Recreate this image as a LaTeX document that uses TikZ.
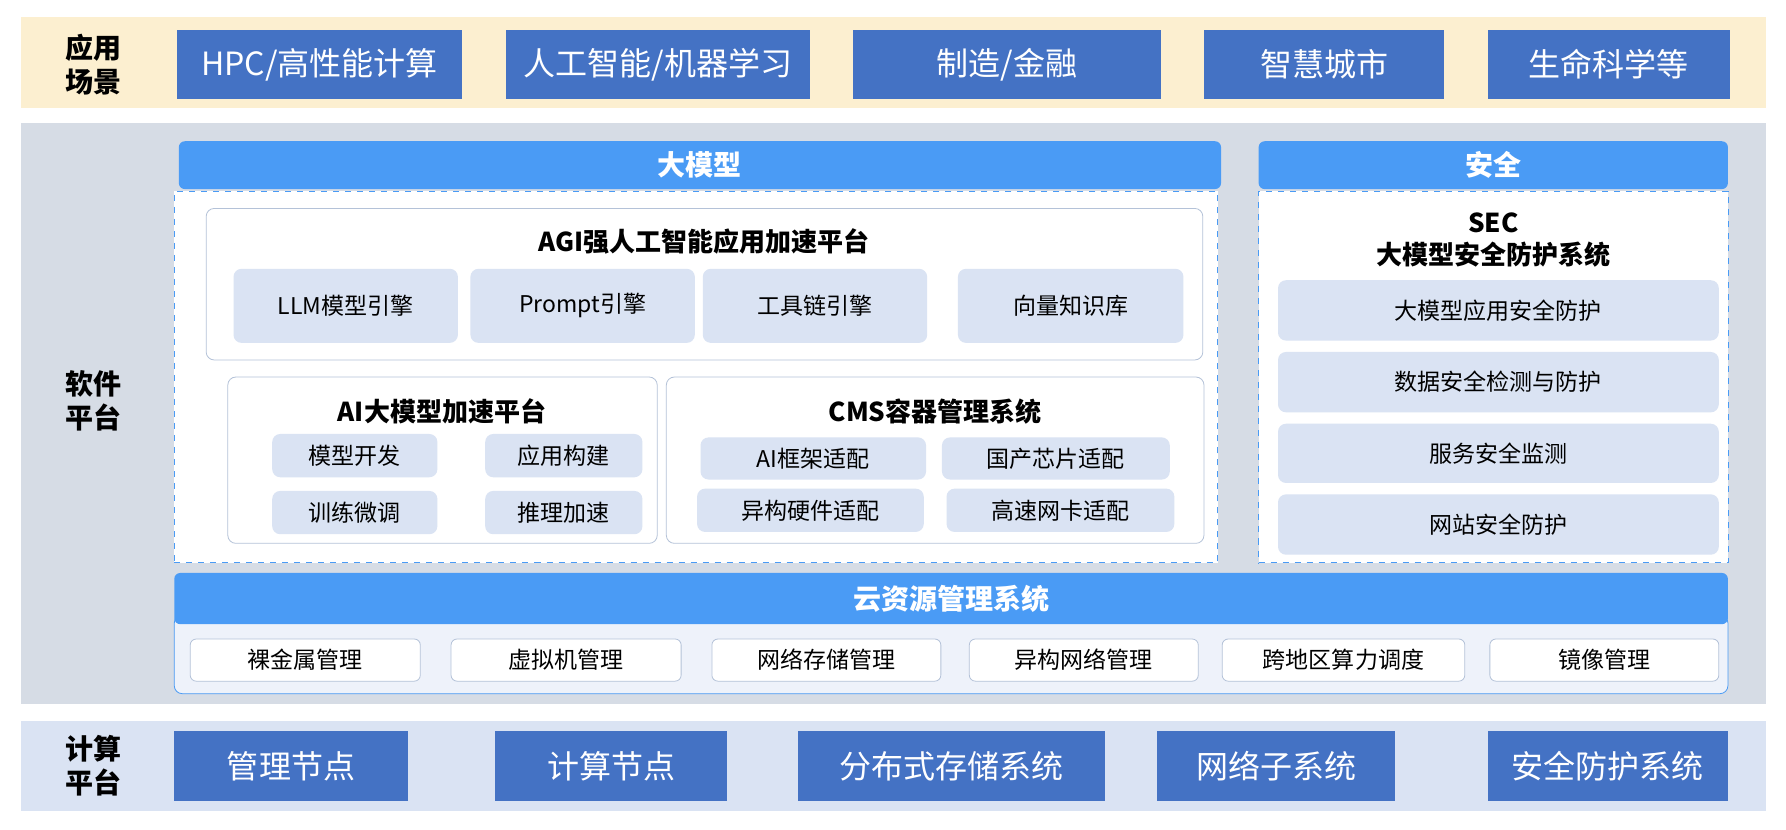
\documentclass[tikz,border=0pt]{standalone}
\usepackage{fontspec}
\setmainfont{Noto Sans CJK SC}
\usepackage{tikz}

\definecolor{darkblue}{HTML}{4472C4}
\definecolor{headblue}{HTML}{4A9BF5}
\definecolor{paleblue}{HTML}{DAE3F3}
\definecolor{bandgray}{HTML}{D6DCE5}
\definecolor{bandbeige}{HTML}{FCEFD0}
\definecolor{edgegray}{HTML}{B4C2D8}

\tikzset{
  darkbox/.style={fill=darkblue, text=white, font=\fontsize{16}{18}\selectfont},
  headbox/.style={fill=headblue, text=white, rounded corners=3pt, font=\fontsize{14}{16}\selectfont\bfseries},
  itembox/.style={fill=paleblue, rounded corners=4pt, font=\fontsize{11.5}{13}\selectfont},
  cloudbox/.style={fill=white, draw=edgegray, rounded corners=3pt, font=\fontsize{11.5}{13}\selectfont},
  groupbox/.style={fill=white, draw=edgegray, rounded corners=4pt},
  dashbox/.style={fill=white, draw=headblue, dashed},
  sidelabel/.style={font=\fontsize{14}{17}\selectfont\bfseries, align=center},
  titletext/.style={font=\fontsize{13}{16}\selectfont\bfseries, align=center}
}
% #1 name, #2-#5 corners, #6 style, #7 text
\newcommand\blk[7]{%
  \node[#6, inner sep=0pt, minimum width={(#4-#2)*0.02cm}, minimum height={(#5-#3)*0.02cm}]
    (#1) at ({(#2+#4)/2},{(#3+#5)/2}) {#7};}
\newcommand\area[6]{%
  \path[#6] (#2,#3) rectangle (#4,#5) coordinate (#1);}

\begin{document}
\begin{tikzpicture}[x=0.02cm, y=-0.02cm]
  \useasboundingbox[fill=white] (0,0) rectangle (1568,728);

  % bands
  \area{appband}{18}{15}{1550}{95}{fill=bandbeige}
  \area{swband}{18}{108}{1550}{618}{fill=bandgray}
  \area{hwband}{18}{633}{1550}{712}{fill=paleblue}
  \node[sidelabel] (applabel) at (82,57) {应用\\场景};
  \node[sidelabel] (swlabel) at (82,352) {软件\\平台};
  \node[sidelabel] (hwlabel) at (82,672) {计算\\平台};

  % application scenarios
  \blk{hpc}{155}{26}{406}{87}{darkbox}{HPC/高性能计算}
  \blk{ai}{444}{26}{711}{87}{darkbox}{人工智能/机器学习}
  \blk{mfg}{749}{26}{1019}{87}{darkbox}{制造/金融}
  \blk{city}{1057}{26}{1268}{87}{darkbox}{智慧城市}
  \blk{life}{1306}{26}{1519}{87}{darkbox}{生命科学等}

  % large model
  \blk{llmhead}{157}{124}{1072}{166}{headbox}{大模型}
  \blk{llmarea}{153}{168}{1069}{494}{dashbox}{}
  \blk{agi}{181}{183}{1056}{316}{groupbox}{}
  \node[titletext] (agititle) at (618,212) {AGI强人工智能应用加速平台};
  \blk{llm}{205}{236}{402}{301}{itembox}{LLM模型引擎}
  \blk{prompt}{413}{236}{610}{301}{itembox}{Prompt引擎}
  \blk{tool}{617}{236}{814}{301}{itembox}{工具链引擎}
  \blk{vec}{841}{236}{1039}{301}{itembox}{向量知识库}

  \blk{aiacc}{200}{331}{577}{477}{groupbox}{}
  \node[titletext] (aiacctitle) at (388,361) {AI大模型加速平台};
  \blk{dev}{239}{381}{384}{419}{itembox}{模型开发}
  \blk{build}{426}{381}{564}{419}{itembox}{应用构建}
  \blk{tune}{239}{431}{384}{469}{itembox}{训练微调}
  \blk{infer}{426}{431}{564}{469}{itembox}{推理加速}

  \blk{cms}{585}{331}{1057}{477}{groupbox}{}
  \node[titletext] (cmstitle) at (821,361) {CMS容器管理系统};
  \blk{frame}{615}{384}{813}{421}{itembox}{AI框架适配}
  \blk{chip}{827}{384}{1027}{421}{itembox}{国产芯片适配}
  \blk{hetero}{612}{429}{811}{467}{itembox}{异构硬件适配}
  \blk{nic}{831}{429}{1031}{467}{itembox}{高速网卡适配}

  % security
  \blk{sechead}{1105}{124}{1517}{166}{headbox}{安全}
  \blk{secarea}{1105}{168}{1517}{494}{dashbox}{}
  \node[titletext] (sectitle) at (1311,211) {SEC\\大模型安全防护系统};
  \blk{appsec}{1122}{246}{1509}{299}{itembox}{大模型应用安全防护}
  \blk{datasec}{1122}{309}{1509}{362}{itembox}{数据安全检测与防护}
  \blk{svcsec}{1122}{372}{1509}{424}{itembox}{服务安全监测}
  \blk{websec}{1122}{434}{1509}{487}{itembox}{网站安全防护}

  % cloud resources
  \blk{cloudarea}{153}{540}{1517}{609}{fill=paleblue!45, draw=headblue, rounded corners=4pt}{}
  \blk{cloudhead}{153}{503}{1517}{548}{headbox}{云资源管理系统}
  \blk{metal}{167}{561}{369}{598}{cloudbox}{裸金属管理}
  \blk{vm}{396}{561}{598}{598}{cloudbox}{虚拟机管理}
  \blk{nas}{625}{561}{826}{598}{cloudbox}{网络存储管理}
  \blk{hnet}{851}{561}{1052}{598}{cloudbox}{异构网络管理}
  \blk{sched}{1073}{561}{1286}{598}{cloudbox}{跨地区算力调度}
  \blk{image}{1308}{561}{1509}{598}{cloudbox}{镜像管理}

  % computing platform
  \blk{mgmt}{153}{642}{358}{703}{darkbox}{管理节点}
  \blk{comp}{435}{642}{638}{703}{darkbox}{计算节点}
  \blk{store}{701}{642}{970}{703}{darkbox}{分布式存储系统}
  \blk{net}{1016}{642}{1225}{703}{darkbox}{网络子系统}
  \blk{guard}{1306}{642}{1517}{703}{darkbox}{安全防护系统}
\end{tikzpicture}
\end{document}
